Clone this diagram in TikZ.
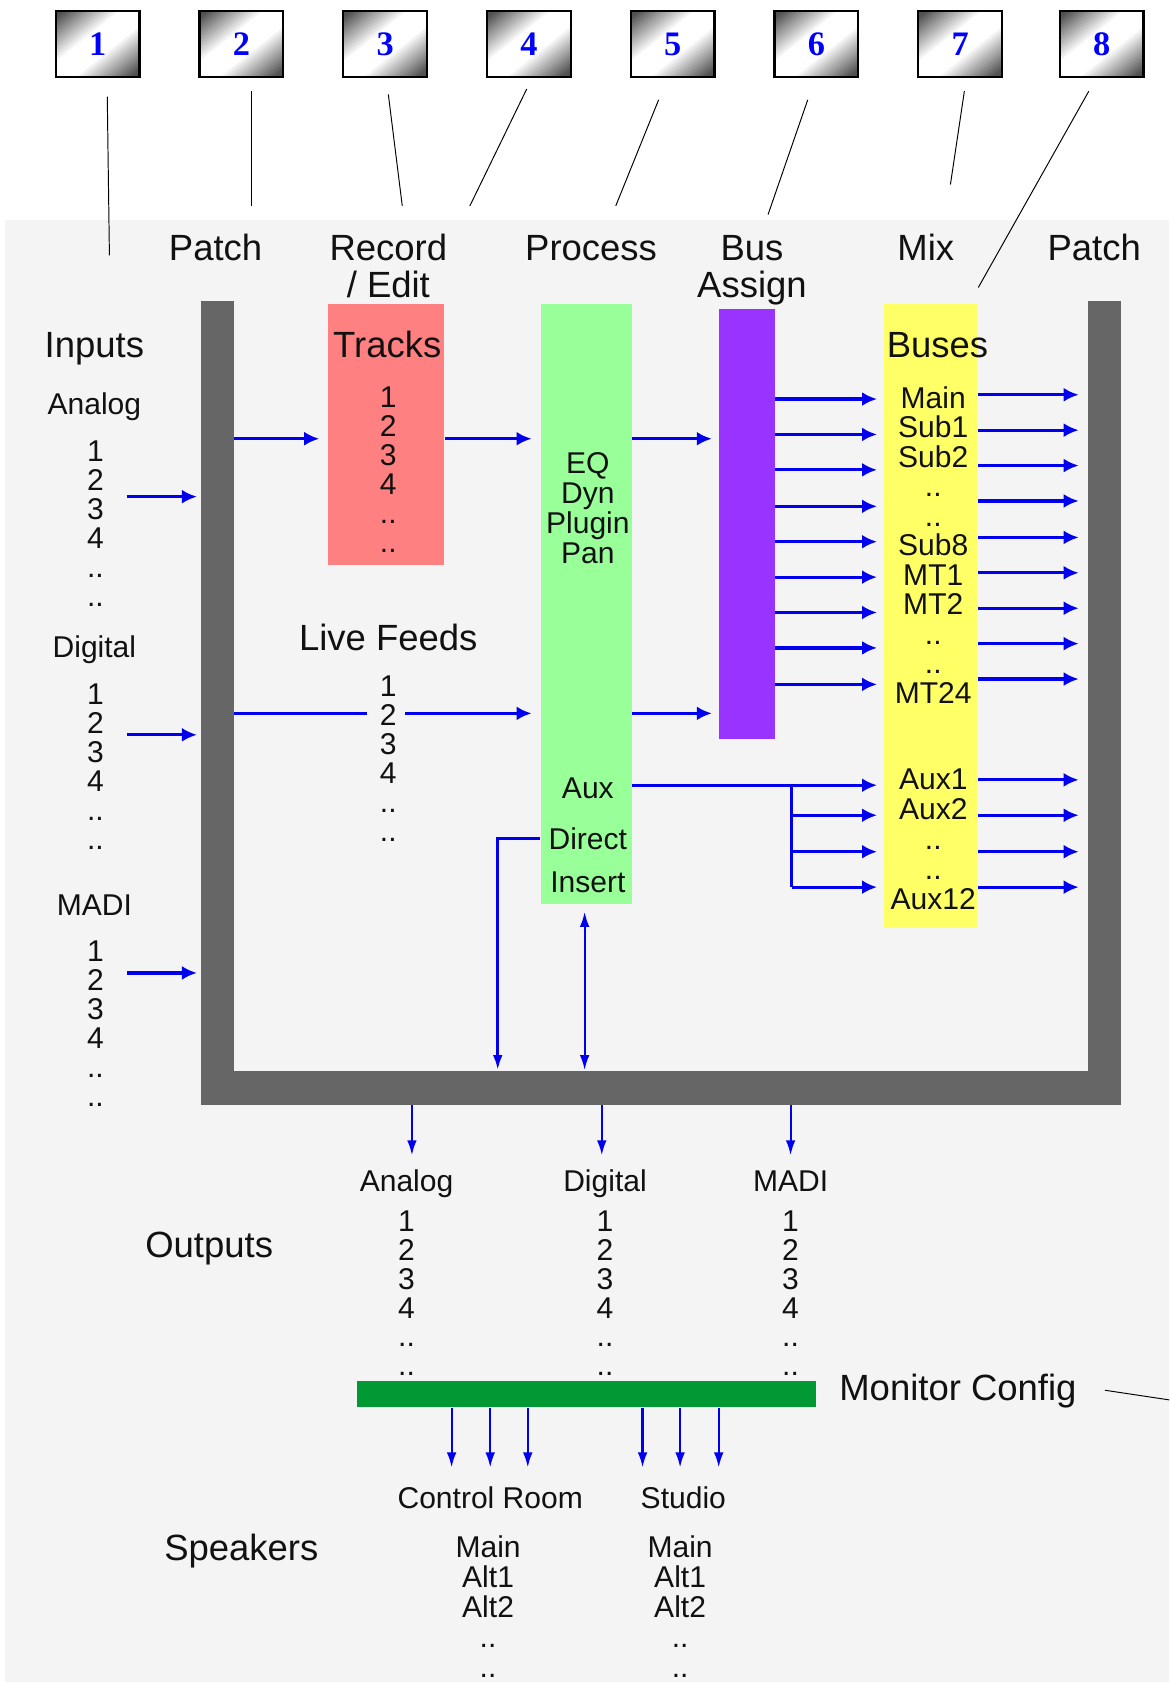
\documentclass[tikz,border=0pt]{standalone}
\usepackage{fontspec}
\setmainfont{Liberation Sans}
\newfontfamily\numfont{Liberation Serif}
\usetikzlibrary{arrows.meta,fit,calc}
\definecolor{bgc}{HTML}{F4F4F4}
\definecolor{framec}{HTML}{666666}
\definecolor{trackc}{HTML}{FF8080}
\definecolor{procc}{HTML}{99FF99}
\definecolor{assignc}{HTML}{9933FF}
\definecolor{busc}{HTML}{FFFF66}
\definecolor{monc}{HTML}{009933}
\definecolor{arrc}{HTML}{0000EE}
\definecolor{boxdark}{HTML}{505050}
\definecolor{numblue}{HTML}{0000FF}
\definecolor{txtc}{HTML}{111111}
\begin{document}
\begin{tikzpicture}[x=0.5pt,y=-0.5pt,
  hd/.style={font=\fontsize{17}{17}\selectfont, anchor=base, inner sep=0, text=txtc},
  sm/.style={font=\fontsize{14}{14}\selectfont, anchor=base, inner sep=0, text=txtc},
  lst/.style={font=\fontsize{14}{13.5}\selectfont, align=center, anchor=north, inner sep=0, text=txtc},
  blk/.style={inner sep=0, draw=none},
  arr/.style={draw=arrc, line width=1.5pt, -{Latex[length=7pt,width=6.5pt]}},
  ln/.style={draw=arrc, line width=1.5pt},
  thinarr/.style={draw=arrc, line width=1pt, -{Latex[length=7pt,width=4.5pt]}},
  dblarr/.style={draw=arrc, line width=1pt, {Latex[length=7pt,width=4.5pt]}-{Latex[length=7pt,width=4.5pt]}},
  lead/.style={draw=black, line width=0.45pt},
  numbox/.style={draw=black, line width=1pt, inner sep=0, minimum width=39pt, minimum height=31pt, text=numblue, font=\numfont\bfseries\fontsize{16}{16}\selectfont}
]
\useasboundingbox (0,0) rectangle (1090,1568);
\fill[white] (0,0) rectangle (1090,1568);
\fill[bgc] (5,205) rectangle (1090,1568);

% numbered boxes with diagonal gradient
\foreach \i/\xl in {1/52,2/186,3/320,4/454,5/588,6/722,7/856,8/988}{
  \begin{scope}[shift={(\xl,10)}, x=39pt, y=-31pt]
    \clip (0,0) rectangle (1,1);
    \foreach \k in {0,...,39}{
      \pgfmathsetmacro\stA{-1+\k*0.05}
      \pgfmathsetmacro\stB{\stA+0.06}
      \pgfmathsetmacro\mixv{max(0,min(100,(abs(\stA+0.025)-0.22)/0.68*100))}
      \fill[boxdark!\mixv!white] (\stA+1.1,-0.1) -- (\stA-0.1,1.1) -- (\stB-0.1,1.1) -- (\stB+1.1,-0.1) -- cycle;
    }
  \end{scope}
  \node[numbox] (nb\i) at (\xl+39,41) {\i};
}

% leader lines
\foreach \i/\ax/\ay/\bx/\by in {1/100/90/102/238, 2/234/85/234/192, 3/362/88/375/192, 4/491/83/438/192, 5/614/93/574/192, 6/753/93/716/200, 7/899/85/886/172, 8/1015/85/912/268}{
  \coordinate (la\i) at (\ax,\ay);
  \coordinate (lb\i) at (\bx,\by);
  \draw[lead] (la\i) -- (lb\i);
}
\coordinate (mc1) at (1030,1296);
\coordinate (mc2) at (1090,1305);
\draw[lead] (mc1) -- (mc2);

% headings
\node[hd] (hpatch1) at (201,243) {Patch};
\node[hd] (hrec) at (362,243) {Record};
\node[hd] (hedit) at (362,277) {/ Edit};
\node[hd] (hproc) at (551,243) {Process};
\node[hd] (hbus) at (701,243) {Bus};
\node[hd] (hassign) at (701,277) {Assign};
\node[hd] (hmix) at (863,243) {Mix};
\node[hd] (hpatch2) at (1020,243) {Patch};

% frame
\node[blk, fill=framec, fit={(187,281) (218,1030)}] (leftbar) {};
\node[blk, fill=framec, fit={(1014,281) (1045,1030)}] (rightbar) {};
\node[blk, fill=framec, fit={(187,998) (1045,1030)}] (bottombar) {};

% blocks
\node[blk, fill=trackc, fit={(306,283) (414,527)}] (tracks) {};
\node[blk, fill=procc, fit={(504,283) (589,843)}] (proc) {};
\node[blk, fill=assignc, fit={(670,288) (722,689)}] (assign) {};
\node[blk, fill=busc, fit={(824,283) (911,865)}] (buses) {};
\node[blk, fill=monc, fit={(333,1287) (761,1312)}] (monbar) {};

% inputs
\node[hd] (hinputs) at (88,333) {Inputs};
\node[sm] (hanalog) at (88,386) {Analog};
\node[lst] (ina) at (89,411) {1\\2\\3\\4\\..\\..};
\node[sm] (hdigital) at (88,613) {Digital};
\node[lst] (ind) at (89,637) {1\\2\\3\\4\\..\\..};
\node[sm] (hmadi) at (88,853) {MADI};
\node[lst] (inm) at (89,877) {1\\2\\3\\4\\..\\..};

% tracks / live
\node[hd] (htracks) at (361,333) {Tracks};
\node[lst] (trk) at (362,360) {1\\2\\3\\4\\..\\..};
\node[hd] (hlive) at (362,606) {Live Feeds};
\node[lst] (live) at (362,630) {1\\2\\3\\4\\..\\..};

% process
\node[lst, font=\fontsize{14}{14}\selectfont] (fx) at (548,421) {EQ\\Dyn\\Plugin\\Pan};
\node[sm] (taux) at (548,744) {Aux};
\node[sm] (tdirect) at (548,792) {Direct};
\node[sm] (tinsert) at (548,832) {Insert};

% buses
\node[hd] (hbuses) at (874,333) {Buses};
\node[lst, font=\fontsize{14}{13.75}\selectfont] (blist) at (870,360) {Main\\Sub1\\Sub2\\..\\..\\Sub8\\MT1\\MT2\\..\\..\\MT24};
\node[lst, font=\fontsize{14}{14}\selectfont] (alist) at (870,716) {Aux1\\Aux2\\..\\..\\Aux12};

% outputs
\node[hd] (hout) at (195,1172) {Outputs};
\node[sm] (oan) at (379,1111) {Analog};
\node[sm] (odg) at (564,1111) {Digital};
\node[sm] (omd) at (737,1111) {MADI};
\node[lst] (loan) at (379,1128) {1\\2\\3\\4\\..\\..};
\node[lst] (lodg) at (564,1128) {1\\2\\3\\4\\..\\..};
\node[lst] (lomd) at (737,1128) {1\\2\\3\\4\\..\\..};
\node[hd] (hmon) at (893,1306) {Monitor Config};

% speakers
\node[sm] (hcr) at (457,1406) {Control Room};
\node[sm] (hst) at (637,1406) {Studio};
\node[hd] (hspk) at (225,1455) {Speakers};
\node[lst, font=\fontsize{14}{14}\selectfont] (lcr) at (455,1431) {Main\\Alt1\\Alt2\\..\\..};
\node[lst, font=\fontsize{14}{14}\selectfont] (lst2) at (634,1431) {Main\\Alt1\\Alt2\\..\\..};

% input arrows
\coordinate (ia1) at (118,463);
\coordinate (ia2) at (118,685);
\coordinate (ia3) at (118,907);
\foreach \c in {ia1,ia2,ia3}
  \draw[arr, shorten >=1.5pt] (\c) -- (\c -| leftbar.west);

% main flow
\draw[arr, shorten >=4pt] (leftbar.east |- 0,409) -- (tracks.west |- 0,409);
\draw[arr, shorten >=4pt] (tracks.east |- 0,409) -- (proc.west |- 0,409);
\draw[arr, shorten >=3pt] (proc.east |- 0,409) -- (assign.west |- 0,409);
\coordinate (lf1) at (342,665);
\coordinate (lf2) at (378,665);
\draw[ln] (leftbar.east |- lf1) -- (lf1);
\draw[arr, shorten >=4pt] (lf2) -- (proc.west |- lf2);
\draw[arr, shorten >=3pt] (proc.east |- 0,665) -- (assign.west |- 0,665);

% bus assign -> buses
\foreach \y in {372,405,438,472,505,538,571,604,638}
  \draw[arr, shorten >=3pt] (assign.east |- 0,\y) -- (buses.west |- 0,\y);
% buses -> patch
\foreach \y in {368,401,434,467,501,534,567,600,633,727,760,794,827}
  \draw[arr, shorten >=4pt] (buses.east |- 0,\y) -- (rightbar.west |- 0,\y);
% aux
\draw[arr, shorten >=3pt] (proc.east |- 0,732) -- (buses.west |- 0,732);
\coordinate (br) at (738,732);
\draw[ln] (br) -- (br |- 0,827);
\foreach \y in {760,794,827}
  \draw[arr, shorten >=3pt] (br |- 0,\y) -- (buses.west |- 0,\y);

% direct / insert
\coordinate (dc) at (464,782);
\draw[thinarr, line width=1.3pt] (proc.west |- dc) -- (dc) -- (dc |- bottombar.north);
\coordinate (ins) at (545,850);
\draw[dblarr] (ins) -- (ins |- bottombar.north);

% outputs
\foreach \x/\n in {384/oa,561/od,737/om}{
  \coordinate (\n) at (\x,1077);
  \draw[thinarr] (\n |- bottombar.south) -- (\n);
}
% speakers
\foreach \x in {421,457,492,599,634,670}{
  \coordinate (sp\x) at (\x,1368);
  \draw[thinarr] (sp\x |- monbar.south) -- (sp\x);
}
\end{tikzpicture}
\end{document}
